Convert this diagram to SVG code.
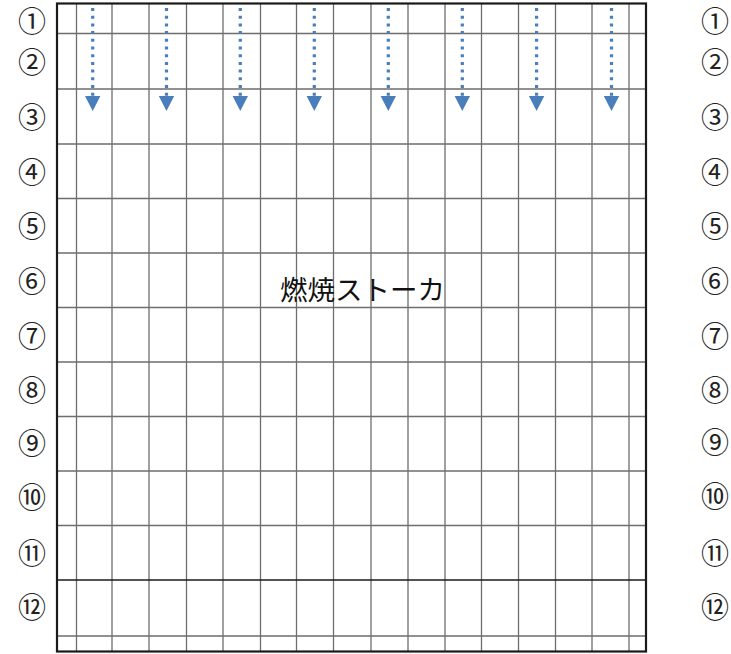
<svg xmlns="http://www.w3.org/2000/svg" width="731" height="654" viewBox="0 0 731 654">
<style>
.g{stroke:#6e6e6e;stroke-width:1.3;fill:none}
.k{stroke:#1a1a1a;stroke-width:1.6;fill:none}
.b{stroke:#1a1a1a;stroke-width:2.2;fill:none}
.lbl{font-family:"Noto Sans CJK JP",sans-serif;font-size:28px;fill:#222;text-anchor:middle;dominant-baseline:central}
.t{font-family:"Noto Sans CJK JP",sans-serif;font-size:27.5px;fill:#111;text-anchor:middle;dominant-baseline:central}
.d{stroke:#4a7ebb;stroke-width:3.2;stroke-dasharray:3 4.7;fill:none}
.h{fill:#4a7ebb}
</style>
<rect width="731" height="654" fill="#fff"/>
<g id="grid">
<path class="g" d="M76.5 4V651M112 4V651M149 4V651M186.5 4V651M223 4V651M260.5 4V651M296.5 4V651M333.5 4V651M371 4V651M408 4V651M445 4V651M481.5 4V651M518.5 4V651M555.5 4V651M592 4V651M629 4V651"/>
<path class="g" d="M57 33.5H646M57 89H646M57 144H646M57 198.5H646M57 253H646M57 307.5H646M57 362H646M57 416.5H646M57 471H646M57 525.5H646M57 636H646"/>
<path class="k" d="M57 580H646"/>
<rect id="stoker" class="b" x="57" y="3.5" width="589" height="648"/>
</g>
<g id="labels-left">
<text class="lbl" x="32" y="20">①</text>
<text class="lbl" x="32" y="61">②</text>
<text class="lbl" x="32" y="116">③</text>
<text class="lbl" x="32" y="171">④</text>
<text class="lbl" x="32" y="225">⑤</text>
<text class="lbl" x="32" y="280">⑥</text>
<text class="lbl" x="32" y="335">⑦</text>
<text class="lbl" x="32" y="389">⑧</text>
<text class="lbl" x="32" y="442">⑨</text>
<text class="lbl" x="32" y="496">⑩</text>
<text class="lbl" x="32" y="552">⑪</text>
<text class="lbl" x="32" y="606">⑫</text>
</g>
<g id="labels-right">
<text class="lbl" x="715" y="20">①</text>
<text class="lbl" x="715" y="61">②</text>
<text class="lbl" x="715" y="116">③</text>
<text class="lbl" x="715" y="171">④</text>
<text class="lbl" x="715" y="225">⑤</text>
<text class="lbl" x="715" y="280">⑥</text>
<text class="lbl" x="715" y="335">⑦</text>
<text class="lbl" x="715" y="389">⑧</text>
<text class="lbl" x="715" y="441">⑨</text>
<text class="lbl" x="715" y="495">⑩</text>
<text class="lbl" x="715" y="552">⑪</text>
<text class="lbl" x="715" y="606">⑫</text>
</g>
<g id="title">
<text class="t" x="362.5" y="288">燃焼ストーカ</text>
</g>
<g id="connectors">
<path class="d" d="M92.7 8V97M166.5 8V97M240.3 8V97M314.3 8V97M388.3 8V97M462.3 8V97M536.6 8V97M611.5 8V97"/>
<path class="h" d="M85 96H100.4L92.7 111ZM158.8 96H174.2L166.5 111ZM232.6 96H248L240.3 111ZM306.6 96H322L314.3 111ZM380.6 96H396L388.3 111ZM454.6 96H470L462.3 111ZM528.9 96H544.3L536.6 111ZM603.8 96H619.2L611.5 111Z"/>
</g>
</svg>
